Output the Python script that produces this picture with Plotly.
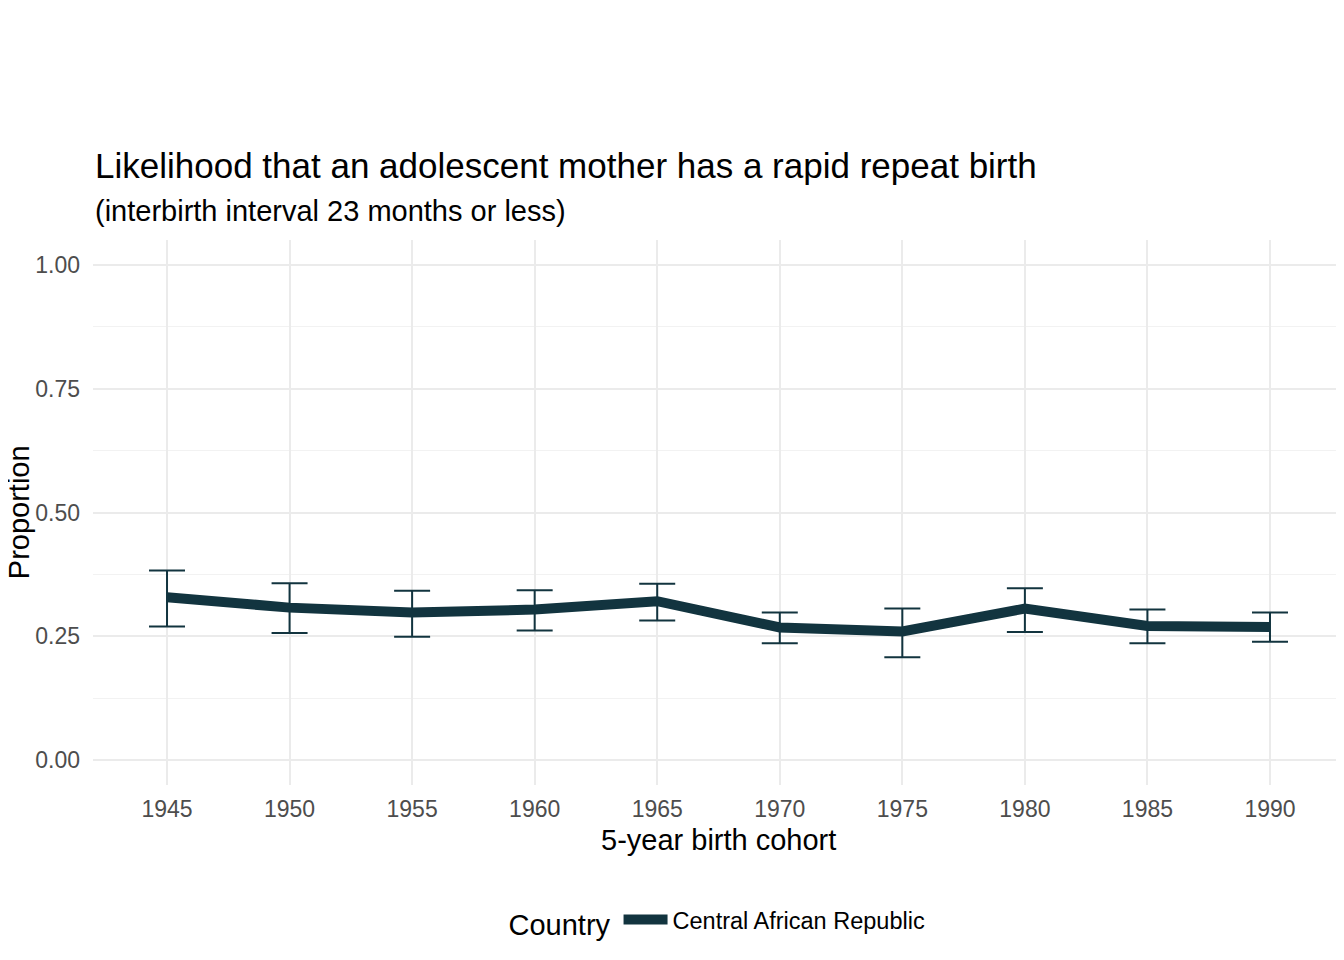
import plotly.graph_objects as go

years = [1945, 1950, 1955, 1960, 1965, 1970, 1975, 1980, 1985, 1990]
proportion = [0.329, 0.308, 0.298, 0.304, 0.321, 0.268, 0.260, 0.306, 0.271, 0.269]
upper = [0.383, 0.357, 0.342, 0.343, 0.356, 0.298, 0.306, 0.347, 0.304, 0.298]
lower = [0.270, 0.257, 0.249, 0.262, 0.282, 0.236, 0.208, 0.259, 0.236, 0.239]
country = "Central African Republic"
color = "#12343f"

err_plus = [u - p for u, p in zip(upper, proportion)]
err_minus = [p - l for p, l in zip(proportion, lower)]

fig = go.Figure()
fig.add_trace(go.Scatter(
    x=years, y=proportion, mode="lines", name=country,
    line=dict(color=color, width=10),
    error_y=dict(type="data", symmetric=False, array=err_plus, arrayminus=err_minus,
                 color=color, thickness=2, width=18),
))

font = "Liberation Sans, Arial, sans-serif"
fig.update_layout(
    width=1344, height=960,
    paper_bgcolor="white", plot_bgcolor="white",
    margin=dict(l=85, r=8, t=232, b=183),
    font=dict(family=font, color="black"),
    showlegend=True,
    legend=dict(orientation="h", x=0.5, xanchor="center", y=-0.251, yanchor="middle",
                itemwidth=44,
                title=dict(text="Country", font=dict(size=29, color="black"), side="left"),
                font=dict(size=23.5, color="black")),
    annotations=[
        dict(text="Likelihood that an adolescent mother has a rapid repeat birth",
             xref="paper", yref="paper", x=0, y=1.1376, xanchor="left", yanchor="middle",
             showarrow=False, font=dict(size=35, color="black")),
        dict(text="(interbirth interval 23 months or less)",
             xref="paper", yref="paper", x=0, y=1.0532, xanchor="left", yanchor="middle",
             showarrow=False, font=dict(size=29, color="black")),
        dict(text="Proportion", xref="paper", yref="paper", x=-0.0594, y=0.5,
             xanchor="center", yanchor="middle", textangle=-90, borderpad=0,
             showarrow=False, font=dict(size=29, color="black")),
        dict(text="5-year birth cohort", xref="paper", yref="paper", x=0.5, y=-0.101,
             xanchor="center", yanchor="middle",
             showarrow=False, font=dict(size=29, color="black")),
    ],
)
fig.update_xaxes(
    range=[1941.98, 1993.02], tickvals=years, ticktext=[str(y) for y in years],
    showgrid=True, gridcolor="#ebebeb", gridwidth=2, zeroline=False,
    showline=False, ticks="", ticklabelstandoff=8,
    tickfont=dict(size=23, color="#4d4d4d"),
)
fig.update_yaxes(
    range=[-0.05, 1.05], tickvals=[0, 0.25, 0.5, 0.75, 1.0],
    ticktext=["0.00", "0.25", "0.50", "0.75", "1.00"],
    showgrid=True, gridcolor="#ebebeb", gridwidth=2, zeroline=False,
    minor=dict(tickvals=[0.125, 0.375, 0.625, 0.875], showgrid=True,
               gridcolor="#f2f2f2", gridwidth=1),
    showline=False, ticks="", ticklabelstandoff=12,
    tickfont=dict(size=23, color="#4d4d4d"),
)

fig.write_html("out.html")
